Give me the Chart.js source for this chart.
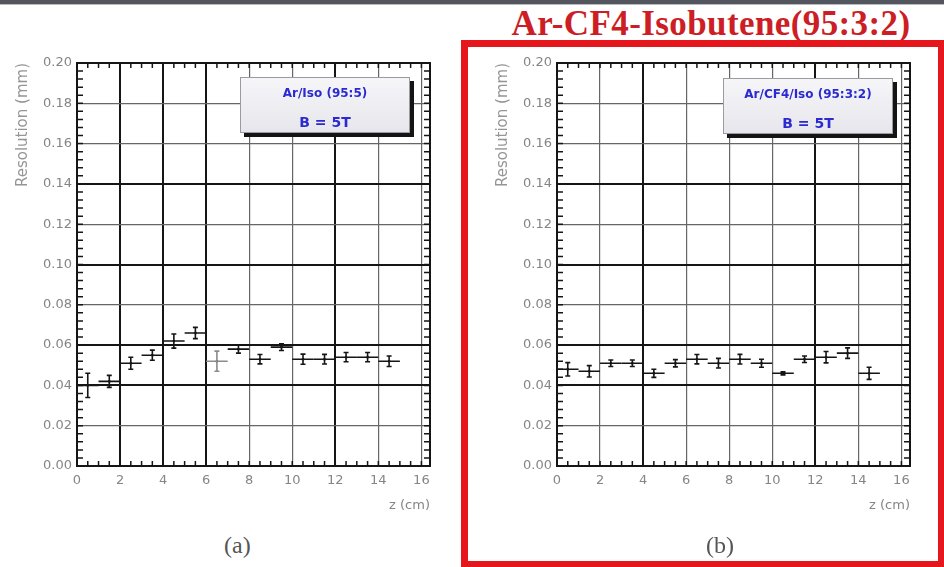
<!DOCTYPE html>
<html>
<head>
<meta charset="utf-8">
<title>Resolution vs z</title>
<script src="https://cdn.jsdelivr.net/npm/chart.js@4.4.0/dist/chart.umd.min.js"></script>
<style>
  body { margin: 0; width: 944px; height: 567px; background: #fff; position: relative; overflow: hidden; font-family: "DejaVu Sans", sans-serif; }
  #topbar { position: absolute; left: 0; top: 0; width: 944px; height: 4px; background: #52555d; border-bottom: 1px solid #b9bbc1; }
  canvas { position: absolute; top: 40px; }
  #chart-a { left: 0; }
  #chart-b { left: 480px; }
  .legend-box {
    position: absolute; width: 170px; height: 56px; box-sizing: border-box;
    border: 1px solid #9a9aa0; background: linear-gradient(#f6f6f9, #e6e6ec);
    box-shadow: 4px 4px 0 #141414; color: #2a2ad0; text-align: center; font-weight: bold;
  }
  .legend-box .l1 { position: absolute; left: 0; right: 0; top: 8px; font-size: 12px; }
  .legend-box .l2 { position: absolute; left: 0; right: 0; top: 36px; font-size: 14px; }
  #legend-a { left: 240px; top: 77px; }
  #legend-b { left: 723px; top: 78px; }
  #red-title { position: absolute; left: 470px; width: 482px; top: 6px; text-align: center; font: bold 35px "Liberation Serif", serif; line-height: 35px; letter-spacing: 0.4px; color: #cc1e24; }
  #red-box { position: absolute; left: 461px; top: 40px; width: 483px; height: 527px; box-sizing: border-box; border: 7px solid #e5161c; border-right-width: 6px; border-bottom-width: 6px; pointer-events: none; }
  .caption { position: absolute; top: 532px; font: 24px "Liberation Serif", serif; color: #555; }
  #cap-a { left: 224px; }
  #cap-b { left: 706px; }
</style>
</head>
<body>
<div id="topbar"></div>
<div id="red-title">Ar-CF4-Isobutene(95:3:2)</div>
<canvas id="chart-a" width="460" height="480"></canvas>
<canvas id="chart-b" width="460" height="480"></canvas>
<div class="legend-box" id="legend-a"><div class="l1">Ar/Iso (95:5)</div><div class="l2">B = 5T</div></div>
<div class="legend-box" id="legend-b"><div class="l1">Ar/CF4/Iso (95:3:2)</div><div class="l2">B = 5T</div></div>
<div id="red-box"></div>
<div class="caption" id="cap-a">(a)</div>
<div class="caption" id="cap-b">(b)</div>
<script>
// bin centres along z (cm), each bin is 1 cm wide
const zBins = [0.5, 1.5, 2.5, 3.5, 4.5, 5.5, 6.5, 7.5, 8.5, 9.5, 10.5, 11.5, 12.5, 13.5, 14.5];
const binHalfWidth = 0.5;

// (a) Ar/Iso (95:5), B = 5T
const resolutionA = [0.040, 0.042, 0.051, 0.055, 0.062, 0.066, 0.052, 0.058, 0.053, 0.059, 0.053, 0.053, 0.054, 0.054, 0.052];
const errorA = [0.006, 0.003, 0.003, 0.0025, 0.0035, 0.0028, 0.005, 0.002, 0.0023, 0.0017, 0.0025, 0.0024, 0.0023, 0.0023, 0.0026];

// (b) Ar/CF4/Iso (95:3:2), B = 5T
const resolutionB = [0.048, 0.047, 0.051, 0.051, 0.046, 0.051, 0.053, 0.051, 0.053, 0.051, 0.046, 0.053, 0.054, 0.056, 0.046];
const errorB = [0.0033, 0.0028, 0.0016, 0.0016, 0.002, 0.0018, 0.0023, 0.0024, 0.0024, 0.002, 0.0008, 0.0016, 0.0028, 0.0026, 0.003];

const xTickValues = [0, 2, 4, 6, 8, 10, 12, 14, 16];
const yTickValues = [0, 0.02, 0.04, 0.06, 0.08, 0.10, 0.12, 0.14, 0.16, 0.18, 0.20];

const near = (a, b) => Math.abs(a - b) < 1e-9;

// draws the bin-width bar and the vertical error bar for every point
const errorBars = {
  id: "errorBars",
  afterDatasetsDraw(chart) {
    const { ctx, scales: { x, y } } = chart;
    ctx.save();
    chart.data.datasets.forEach((ds) => {
      ds.data.forEach((p, i) => {
        const px = x.getPixelForValue(p.x);
        const x0 = x.getPixelForValue(p.x - p.xerr);
        const x1 = x.getPixelForValue(p.x + p.xerr);
        const py = y.getPixelForValue(p.y);
        const y0 = y.getPixelForValue(p.y - p.yerr);
        const y1 = y.getPixelForValue(p.y + p.yerr);
        ctx.strokeStyle = (ds.faint || []).includes(i) ? "#8c8c8c" : "#151515";
        ctx.lineWidth = 1.6;
        ctx.beginPath();
        ctx.moveTo(x0, py); ctx.lineTo(x1, py);
        ctx.moveTo(px, y0); ctx.lineTo(px, y1);
        ctx.moveTo(px - 2.5, y0); ctx.lineTo(px + 2.5, y0);
        ctx.moveTo(px - 2.5, y1); ctx.lineTo(px + 2.5, y1);
        ctx.stroke();
      });
    });
    ctx.restore();
  },
};

// frame round the plot and the small inward ticks
const frame = {
  id: "frame",
  beforeDatasetsDraw(chart) {
    const { ctx, chartArea: a, scales: { x, y } } = chart;
    ctx.save();
    ctx.strokeStyle = "#151515";
    ctx.lineWidth = 1.5;
    ctx.beginPath();
    for (let k = 1; k * 0.5 < x.max; k++) {
      const px = x.getPixelForValue(k * 0.5);
      ctx.moveTo(px, a.bottom); ctx.lineTo(px, a.bottom - 5);
      ctx.moveTo(px, a.top); ctx.lineTo(px, a.top + 5);
    }
    for (let k = 1; k < 50; k++) {
      const py = y.getPixelForValue(k * 0.004);
      ctx.moveTo(a.left, py); ctx.lineTo(a.left + 6, py);
      ctx.moveTo(a.right, py); ctx.lineTo(a.right - 6, py);
    }
    ctx.stroke();
    ctx.lineWidth = 2;
    ctx.strokeRect(a.left, a.top, a.width, a.height);
    ctx.restore();
  },
};

function makeChart(id, values, errors, style) {
  const points = zBins.map((z, i) => ({ x: z, y: values[i], xerr: binHalfWidth, yerr: errors[i] }));
  const isBoldX = (c) => c.tick && style.boldX.includes(c.tick.value);
  const isBoldY = (c) => c.tick && style.boldY.some((v) => near(v, c.tick.value));
  return new Chart(document.getElementById(id), {
    type: "scatter",
    data: {
      datasets: [{
        data: points,
        faint: style.faint,
        pointRadius: 1.6,
        pointStyle: "rect",
        backgroundColor: "#151515",
        borderWidth: 0,
      }],
    },
    options: {
      responsive: false,
      animation: false,
      layout: { padding: { top: 23, right: 30, left: 0, bottom: 0 } },
      plugins: { legend: { display: false }, tooltip: { enabled: false } },
      scales: {
        x: {
          type: "linear",
          min: 0,
          max: 16.4,
          afterBuildTicks: (s) => { s.ticks = xTickValues.map((v) => ({ value: v })); },
          afterFit: (s) => { s.height = 54; },
          border: { display: false },
          grid: {
            drawTicks: false,
            color: (c) => (isBoldX(c) ? "#151515" : "#666"),
            lineWidth: (c) => (isBoldX(c) ? 2 : 1.2),
          },
          ticks: { padding: 7, color: "#858585", font: { family: "DejaVu Sans", size: 13 }, maxRotation: 0 },
          title: { display: true, text: "z (cm)", align: "end", color: "#858585", font: { family: "DejaVu Sans", size: 13 }, padding: { top: 0, bottom: 7 } },
        },
        y: {
          min: 0,
          max: 0.2,
          afterBuildTicks: (s) => { s.ticks = yTickValues.map((v) => ({ value: v })); },
          afterFit: (s) => { s.width = 77; },
          border: { display: false },
          grid: {
            drawTicks: false,
            color: (c) => (isBoldY(c) ? "#151515" : "#666"),
            lineWidth: (c) => (isBoldY(c) ? 2 : 1.2),
          },
          ticks: { padding: 5, color: "#858585", font: { family: "DejaVu Sans", size: 13 }, callback: (v) => v.toFixed(2) },
          title: { display: true, text: "Resolution (mm)", align: "end", color: "#959595", font: { family: "DejaVu Sans", size: 15 }, padding: { top: 14, bottom: 0 } },
        },
      },
    },
    plugins: [frame, errorBars],
  });
}

makeChart("chart-a", resolutionA, errorA, { boldX: [2, 4, 6, 12], boldY: [0.04, 0.06, 0.10, 0.14], faint: [6] });
makeChart("chart-b", resolutionB, errorB, { boldX: [4, 12], boldY: [0.04, 0.06, 0.10, 0.14], faint: [] });
</script>
</body>
</html>
